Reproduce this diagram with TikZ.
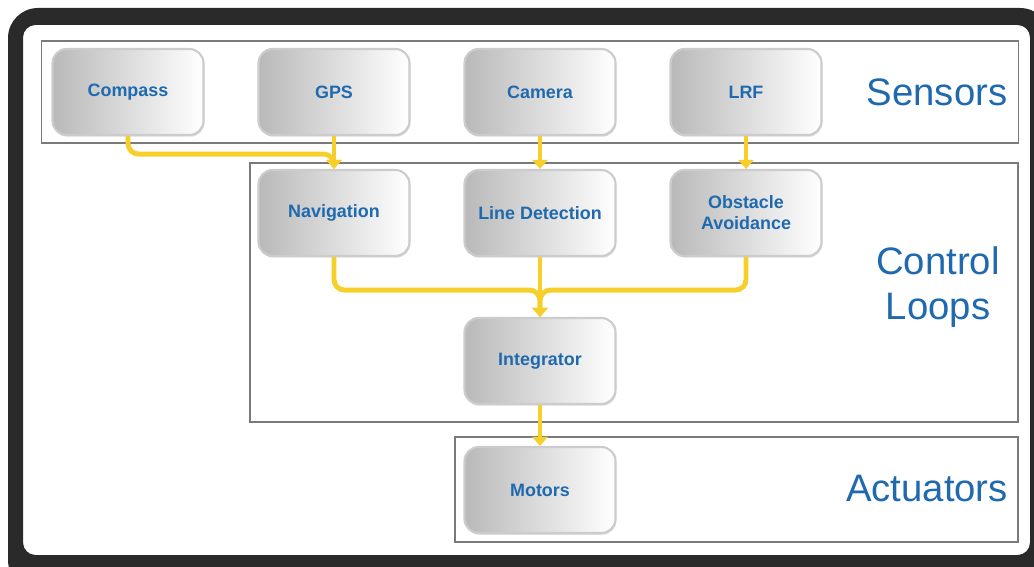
\documentclass[tikz,border=0pt]{standalone}
\usepackage{fontspec}
\setmainfont{Liberation Sans}
\setsansfont{Liberation Sans}
\usepackage{xcolor}
\definecolor{framedark}{HTML}{2A2A2A}
\definecolor{boxline}{HTML}{7A7A7A}
\definecolor{textblue}{HTML}{1F69AE}
\definecolor{wireyellow}{HTML}{F6CF2A}
\usepackage{tikz}
\usetikzlibrary{positioning,arrows.meta,shadows}

\begin{document}
\begin{tikzpicture}[
  x=0.02cm, y=-0.02cm,
  font=\sffamily,
  block/.style={rounded corners=8pt, left color=gray!55, right color=white, draw=gray!40, line width=1.2pt,
    minimum width=3.02cm, minimum height=1.72cm, align=center, text=textblue,
    font=\sffamily\bfseries\fontsize{10.2}{12}\selectfont,
    drop shadow={opacity=0.25, shadow xshift=0.5pt, shadow yshift=-1pt}},
  group/.style={draw=boxline, line width=0.9pt, fill=white},
  title/.style={text=textblue, align=center, font=\sffamily\fontsize{21.8}{25.5}\selectfont},
  arr/.style={-{Triangle[length=1.8mm, width=3mm]}, line width=2.8pt, color=wireyellow, rounded corners=6pt},
]
  \useasboundingbox (0,0) rectangle (1034,567);
  % outer frame
  \fill[framedark, even odd rule]
    [rounded corners=0.6cm] (8,8) rectangle (1050,590)
    [rounded corners=0.25cm] (23,25) rectangle (1030,555);
  % groups
  \node[group, inner sep=0pt, minimum width=19.54cm, minimum height=2.04cm] (sensbox) at (530,92) {};
  \node[group, inner sep=0pt, minimum width=15.36cm, minimum height=5.18cm] (ctrlbox) at (634,292.5) {};
  \node[group, inner sep=0pt, minimum width=11.26cm, minimum height=2.10cm] (actbox) at (736.5,489.5) {};
  \node[title] (senslab) at (937,92) {Sensors};
  \node[title] (ctrllab) at (938,287) {Control\\Loops};
  \node[title] (actlab) at (927,489) {Actuators};
  % sensors
  \node[block] (compass) at (128,92) {Compass};
  \node[block] (gps) at (334,92) {GPS};
  \node[block] (camera) at (540,92) {Camera};
  \node[block] (lrf) at (746,92) {LRF};
  % control loops
  \node[block] (nav) at (334,213) {Navigation};
  \node[block] (linedet) at (540,213) {Line Detection};
  \node[block] (obstacle) at (746,213) {Obstacle\\Avoidance};
  \node[block] (integ) at (540,361) {Integrator};
  % actuators
  \node[block] (motors) at (540,490) {Motors};
  % wires
  \draw[arr] (compass.south) -- ++(0,18) -| (nav.north);
  \draw[arr] (gps) -- (nav);
  \draw[arr] (camera) -- (linedet);
  \draw[arr] (lrf) -- (obstacle);
  \draw[arr] (nav.south) -- ++(0,33) -| (integ.north);
  \draw[arr] (obstacle.south) -- ++(0,33) -| (integ.north);
  \draw[arr] (linedet) -- (integ);
  \draw[arr] (integ) -- (motors);
\end{tikzpicture}
\end{document}
